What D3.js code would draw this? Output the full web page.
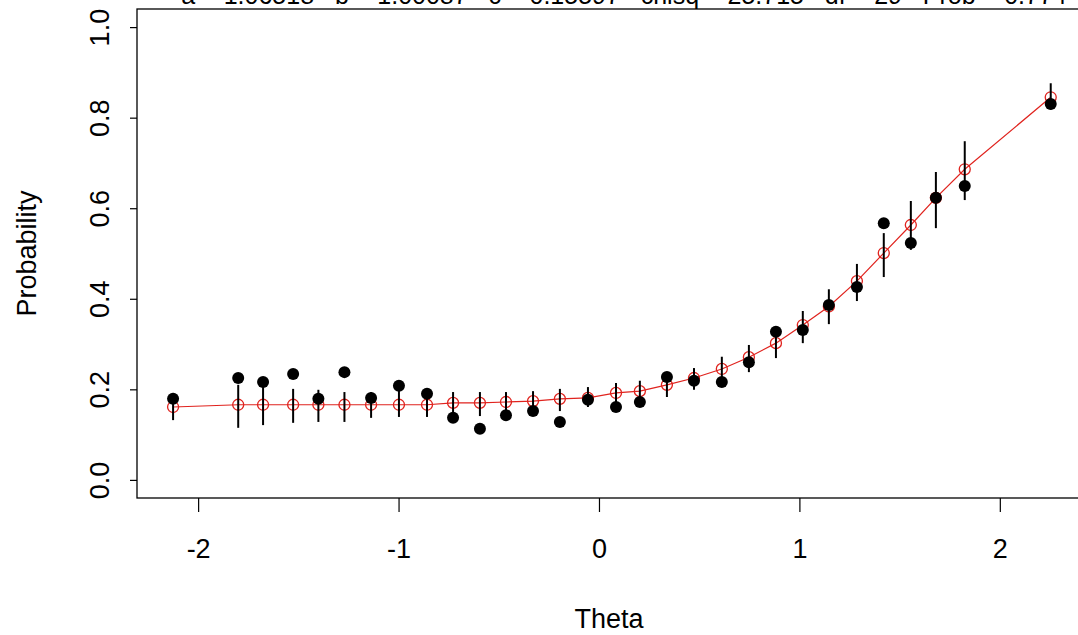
<!DOCTYPE html>
<html>
<head>
<meta charset="utf-8">
<script src="https://cdn.jsdelivr.net/npm/d3@7"></script>
<style>
  html, body { margin: 0; padding: 0; background: #fff; }
  svg { display: block; }
  text { font-family: "Liberation Sans", Arial, sans-serif; fill: #000; }
</style>
</head>
<body>
<svg id="chart" width="1078" height="635"></svg>
<script>
// ---- data ----
const theta = [-2.125, -1.800, -1.676, -1.526, -1.400, -1.270, -1.137, -0.998, -0.858, -0.728,
               -0.594, -0.464, -0.329, -0.195, -0.055, 0.085, 0.204, 0.339, 0.474, 0.613,
               0.748, 0.883, 1.017, 1.147, 1.287, 1.421, 1.556, 1.681, 1.825, 2.254];
const expected = [0.161, 0.166, 0.166, 0.166, 0.166, 0.166, 0.166, 0.166, 0.166, 0.170,
                  0.170, 0.172, 0.174, 0.179, 0.181, 0.192, 0.196, 0.210, 0.225, 0.245,
                  0.271, 0.302, 0.342, 0.383, 0.439, 0.501, 0.563, 0.623, 0.686, 0.845];
const observed = [0.179, 0.225, 0.216, 0.234, 0.179, 0.238, 0.181, 0.208, 0.190, 0.137,
                  0.113, 0.143, 0.152, 0.128, 0.177, 0.161, 0.172, 0.227, 0.219, 0.216,
                  0.260, 0.327, 0.331, 0.386, 0.426, 0.567, 0.523, 0.623, 0.649, 0.830];
const barLow  = [0.132, 0.115, 0.121, 0.126, 0.128, 0.128, 0.137, 0.139, 0.139, 0.143,
                 0.141, 0.146, 0.148, 0.152, 0.161, 0.166, 0.166, 0.183, 0.199, 0.219,
                 0.238, 0.269, 0.302, 0.344, 0.395, 0.448, 0.508, 0.556, 0.618, 0.818];
const barHigh = [0.192, 0.210, 0.205, 0.201, 0.199, 0.194, 0.194, 0.199, 0.194, 0.194,
                 0.194, 0.194, 0.196, 0.201, 0.205, 0.214, 0.219, 0.236, 0.247, 0.272,
                 0.298, 0.333, 0.373, 0.421, 0.477, 0.545, 0.616, 0.680, 0.748, 0.876];
const xTicks = [-2, -1, 0, 1, 2];
const yTicks = [0.0, 0.2, 0.4, 0.6, 0.8, 1.0];
const titleText = "a=  1.06518   b=  1.00087   c=  0.15597   chisq=  25.715   df=  29   Prob=  0.774";
const xLabel = "Theta";
const yLabel = "Probability";

// ---- chart ----
const svg = d3.select("#chart");
const x = d3.scaleLinear().domain([-2.305, 2.425]).range([137, 1085]);
const y = d3.scaleLinear().domain([-0.04, 1.04]).range([498, 9]);
const FS = 27;
const RED = "#e0231e";

const pts = theta.map((t, i) => ({t, e: expected[i], o: observed[i], lo: barLow[i], hi: barHigh[i]}));

// plot box
svg.append("rect")
  .attr("x", x.range()[0]).attr("y", y.range()[1])
  .attr("width", x.range()[1] - x.range()[0])
  .attr("height", y.range()[0] - y.range()[1])
  .attr("fill", "none").attr("stroke", "#000").attr("stroke-width", 1.3);

// x axis
const xAxis = d3.axisBottom(x).tickValues(xTicks).tickSize(14).tickPadding(27)
  .tickFormat(d => d3.format("d")(d).replace("−", "-"));
const gx = svg.append("g").attr("transform", `translate(0,${y.range()[0]})`).call(xAxis);
gx.select(".domain").remove();
gx.selectAll("line").attr("stroke", "#000").attr("stroke-width", 1.2);
gx.selectAll("text").attr("font-size", FS).attr("fill", "#000").attr("font-family", "'Liberation Sans', Arial, sans-serif");

// y axis
const yAxis = d3.axisLeft(y).tickValues(yTicks).tickSize(7).tickPadding(0).tickFormat(d3.format(".1f"));
const gy = svg.append("g").attr("transform", `translate(${x.range()[0]},0)`).call(yAxis);
gy.select(".domain").remove();
gy.selectAll("line").attr("stroke", "#000").attr("stroke-width", 1.2);
gy.selectAll("text")
  .attr("font-size", FS).attr("fill", "#000").attr("font-family", "'Liberation Sans', Arial, sans-serif")
  .attr("x", 0).attr("dy", null)
  .attr("text-anchor", "middle")
  .attr("transform", "translate(-28,0) rotate(-90)");

// axis titles
svg.append("text").attr("x", 609).attr("y", 628).attr("text-anchor", "middle")
  .attr("font-size", FS).text(xLabel);
svg.append("text").attr("transform", `translate(36,${(y.range()[0] + y.range()[1]) / 2}) rotate(-90)`)
  .attr("text-anchor", "middle").attr("font-size", FS).text(yLabel);

// title (cut off at the top, as in the reference)
svg.append("text").attr("x", 624).attr("y", 4).attr("text-anchor", "middle")
  .attr("font-size", 25).attr("xml:space", "preserve").style("white-space", "pre").text(titleText);

// expected curve
svg.append("path").datum(pts)
  .attr("d", d3.line().x(d => x(d.t)).y(d => y(d.e)))
  .attr("fill", "none").attr("stroke", RED).attr("stroke-width", 1.2);

// expected circles
svg.append("g").selectAll("circle").data(pts).join("circle")
  .attr("cx", d => x(d.t)).attr("cy", d => y(d.e)).attr("r", 5.5)
  .attr("fill", "none").attr("stroke", RED).attr("stroke-width", 1.3);

// error bars
svg.append("g").selectAll("line").data(pts).join("line")
  .attr("x1", d => x(d.t)).attr("x2", d => x(d.t))
  .attr("y1", d => y(d.lo)).attr("y2", d => y(d.hi))
  .attr("stroke", "#000").attr("stroke-width", 2);

// observed dots
svg.append("g").selectAll("circle").data(pts).join("circle")
  .attr("cx", d => x(d.t)).attr("cy", d => y(d.o)).attr("r", 6)
  .attr("fill", "#000");
</script>
</body>
</html>
